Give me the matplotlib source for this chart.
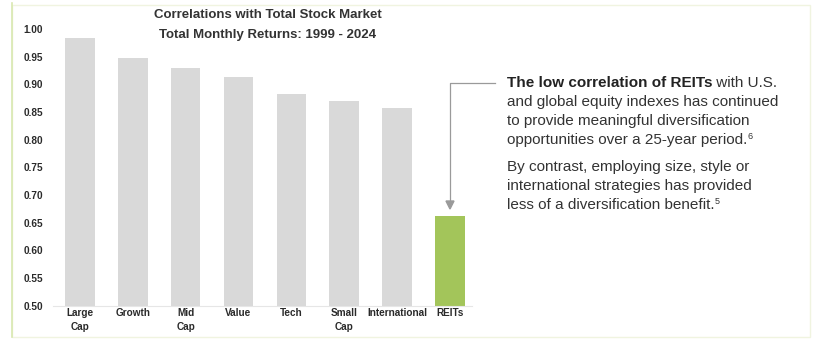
import matplotlib
matplotlib.use("Agg")
import matplotlib.pyplot as plt
from matplotlib.patches import Rectangle
from matplotlib.text import Annotation

plt.rcParams['font.family'] = ['Liberation Sans', 'DejaVu Sans']

categories = ["Large\nCap", "Growth", "Mid\nCap", "Value", "Tech", "Small\nCap", "International", "REITs"]
values = [0.984, 0.948, 0.930, 0.913, 0.883, 0.870, 0.857, 0.661]
yticks = [0.50, 0.55, 0.60, 0.65, 0.70, 0.75, 0.80, 0.85, 0.90, 0.95, 1.00]
title_lines = ["Correlations with Total Stock Market", "Total Monthly Returns: 1999 - 2024"]

W, H = 825, 339
fig = plt.figure(figsize=(W / 100, H / 100), dpi=100)
fig.patch.set_facecolor("white")

# light frame
fig.patches.append(Rectangle((12 / W, 2 / H), (810 - 12) / W, (334 - 2) / H, transform=fig.transFigure,
                             fill=False, edgecolor="#f0f4e0", linewidth=1.0))
fig.lines.append(plt.Line2D([12 / W, 12 / W], [2 / H, 336 / H], transform=fig.transFigure,
                            color="#d9e8b0", linewidth=1.2))

ax = fig.add_axes([53 / W, (H - 305.5) / H, (472 - 53) / W, (305.5 - 29) / H])
colors = ["#d9d9d9"] * (len(values) - 1) + ["#a3c55a"]
x = list(range(len(values)))
ax.bar(x, [v - 0.5 for v in values], bottom=0.5, width=0.56, color=colors, zorder=2)
ax.set_xlim(-0.51, 7.42)
ax.set_ylim(0.5, 1.0)
ax.set_yticks(yticks)
ax.set_yticklabels([f"{t:.2f}" for t in yticks], fontsize=7.2, fontweight="bold", color="#2a2a2a")
ax.set_xticks(x)
ax.set_xticklabels(categories, fontsize=7.2, fontweight="bold", color="#2a2a2a", linespacing=1.45)
ax.tick_params(axis="both", length=0)
ax.tick_params(axis="y", pad=7)
ax.tick_params(axis="x", pad=2)
for s in ["top", "right", "left"]:
    ax.spines[s].set_visible(False)
ax.spines["bottom"].set_color("#e6e6e6")
ax.spines["bottom"].set_linewidth(0.8)

# title
fig.text(268 / W, (H - 15) / H, title_lines[0], ha="center", va="center", fontsize=9.5,
         fontweight="bold", color="#333333")
fig.text(268 / W, (H - 35) / H, title_lines[1], ha="center", va="center", fontsize=9.5,
         fontweight="bold", color="#333333")

# arrow from text to REITs bar
arrow_color = "#9a9a9a"
fig.lines.append(plt.Line2D([495 / W, 450 / W, 450 / W], [(H - 83) / H, (H - 83) / H, (H - 203) / H],
                            transform=fig.transFigure, color=arrow_color, linewidth=0.9))
fig.patches.append(plt.Polygon([[446 / W, (H - 201) / H], [454 / W, (H - 201) / H], [450 / W, (H - 209) / H]],
                               closed=True, transform=fig.transFigure, color=arrow_color))

# annotation text
fs = 11
tx = 507 / W
t0 = fig.text(tx, (H - 83) / H, "The low correlation of REITs", ha="left", va="center",
              fontsize=fs, fontweight="bold", color="#222222")
fig.add_artist(Annotation(" with U.S.", xy=(1, 0), xycoords=t0, va="bottom", ha="left",
                          fontsize=fs, color="#333333"))

lines1 = ["and global equity indexes has continued",
          "to provide meaningful diversification",
          "opportunities over a 25-year period."]
ys1 = [102, 121, 140]
last = None
for ln, yy in zip(lines1, ys1):
    last = fig.text(tx, (H - yy) / H, ln, ha="left", va="center", fontsize=fs, color="#333333")
fig.add_artist(Annotation("6", xy=(1, 0.42), xycoords=last, va="bottom", ha="left",
                          fontsize=6.5, color="#333333"))

lines2 = ["By contrast, employing size, style or",
          "international strategies has provided",
          "less of a diversification benefit."]
ys2 = [167, 186, 205]
for ln, yy in zip(lines2, ys2):
    last = fig.text(tx, (H - yy) / H, ln, ha="left", va="center", fontsize=fs, color="#333333")
fig.add_artist(Annotation("5", xy=(1, 0.42), xycoords=last, va="bottom", ha="left",
                          fontsize=6.5, color="#333333"))

fig.savefig("out.png", dpi=100)
